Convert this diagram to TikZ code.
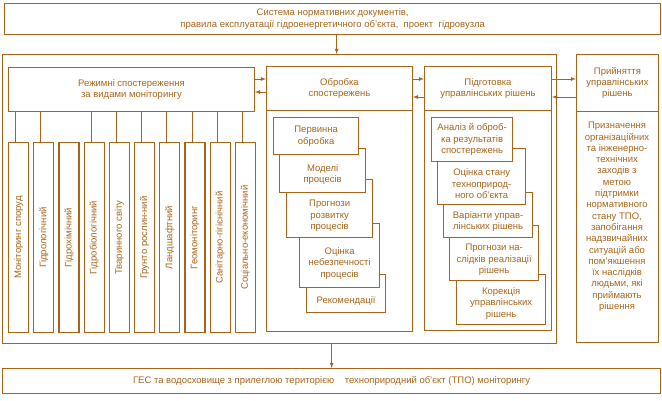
\documentclass[tikz,border=0pt]{standalone}
\usepackage{fontspec}
\setmainfont{Liberation Sans}
\usetikzlibrary{math,calc}
\definecolor{brn}{RGB}{168,100,24}

\begin{document}
\begin{tikzpicture}[x=1pt,y=-1pt,
    every node/.style={text=brn, font=\fontsize{9.5}{11.3}\selectfont},
    frm/.style={draw=brn, line width=1.3pt, inner sep=0pt, anchor=north west, align=center},
    hbox/.style={draw=brn, line width=0.9pt, inner sep=0pt, anchor=north west, align=center},
    kind/.style={draw=brn, line width=1.2pt, inner sep=0pt, anchor=north west, minimum width=20pt, minimum height=190pt},
    stk/.style={draw=brn, line width=1.3pt, fill=white, inner sep=0pt, anchor=north west},
    lbl/.style={align=center, inner sep=0pt},
    arr/.style={draw=brn, line width=0.8pt, -latex},
    con/.style={draw=brn, line width=0.8pt}]
  \useasboundingbox (0,0) rectangle (662,400);
  \tikzmath{\cstep = 25.2;}

  % top and bottom boxes
  \node[frm, minimum width=656pt, minimum height=31pt] (norms) at (4,3)
    {Система нормативних документів,\\правила експлуатації гідроенергетичного об’єкта,~ проект~ гідровузла};
  \node[frm, minimum width=658pt, minimum height=25pt] (hpp) at (2,368)
    {ГЕС та водосховище з прилеглою територією~~~ техноприродний об’єкт (ТПО) моніторингу};

  % outer frame
  \node[frm, minimum width=554pt, minimum height=289pt] (frame) at (2,54) {};

  % kinds of monitoring
  \node[hbox, minimum width=246pt, minimum height=44pt] (regimes) at (8,67)
    {Режимні спостереження\\за видами моніторингу};
  \foreach \name [count=\i] in {Моніторинг споруд, Гідрологічний, Гідрохімічний,
      Гідробіологічний, Тваринного світу, Грунто рослин-ний, Ландшафтний,
      Геомоніторинг, Санітарно-гігієнічний, Соціально-економічний}
  {
    \node[kind] (c\i) at ({8+(\i-1)*\cstep},142) {};
    \node[lbl, rotate=90] (c\i t) at (c\i.center) {\name};
  }
  \foreach \i in {1,2,4,5,6,7,8,9,10}
  {
    \coordinate (j\i) at ([xshift=-3pt]c\i.north);
    \draw[con] (j\i) -- (j\i |- regimes.south);
  }

  % processing
  \node[hbox, minimum width=146pt, minimum height=44pt] (prochead) at (266,66) {Обробка\\спостережень};
  \node[hbox, minimum width=146pt, minimum height=221pt] (procbody) at (266,110) {};
  \node[stk, minimum width=79pt, minimum height=38pt] (p5) at (306,274) {};
  \node[stk, minimum width=80pt, minimum height=64pt] (p4) at (299,223) {};
  \node[stk, minimum width=86pt, minimum height=58pt] (p3) at (286,179) {};
  \node[stk, minimum width=86pt, minimum height=44pt] (p2) at (279,148) {};
  \node[stk, minimum width=85pt, minimum height=37pt] (p1) at (273,117) {};
  \node[lbl] (p1t) at (p1.center) {Первинна\\обробка};
  \node[lbl] (p2t) at ($(p2.south)!.5!(p2.south |- p1.south)$) {Моделі\\процесів};
  \node[lbl] (p3t) at ($(p3.south)!.5!(p3.south |- p2.south)$) {Прогнози\\розвитку\\процесів};
  \node[lbl] (p4t) at ($(p4.south)!.5!(p4.south |- p3.south)$) {Оцінка\\небезпечності\\процесів};
  \node[lbl] (p5t) at ($(p5.south)!.5!(p5.south |- p4.south)$) {Рекомендації};

  % decisions
  \node[hbox, minimum width=127pt, minimum height=44pt] (prephead) at (424,66) {Підготовка\\управлінських рішень};
  \node[hbox, minimum width=127pt, minimum height=220pt] (prepbody) at (424,110) {};
  \node[stk, minimum width=89pt, minimum height=50pt] (d5) at (456,274) {};
  \node[stk, minimum width=89pt, minimum height=55pt] (d4) at (449,225) {};
  \node[stk, minimum width=89pt, minimum height=45pt] (d3) at (443,192) {};
  \node[stk, minimum width=88pt, minimum height=56pt] (d2) at (437,148) {};
  \node[stk, minimum width=81pt, minimum height=44pt] (d1) at (431,117) {};
  \node[lbl] (d1t) at (d1.center) {Аналіз й оброб-\\ка результатів\\спостережень};
  \node[lbl] (d2t) at ($(d2.south)!.5!(d2.south |- d1.south)$) {Оцінка стану\\техноприрод-\\ного об’єкта};
  \node[lbl] (d3t) at ($(d3.south)!.5!(d3.south |- d2.south)$) {Варіанти управ-\\лінських рішень};
  \node[lbl] (d4t) at ($(d4.south)!.5!(d4.south |- d3.south)$) {Прогнози на-\\слідків реалізації\\рішень};
  \node[lbl] (d5t) at ($(d5.south)!.5!(d5.south |- d4.south)$) {Корекція\\управлінських\\рішень};

  % acceptance
  \node[hbox, minimum width=82pt, minimum height=57pt] (accepthead) at (576,54) {Прийняття\\управлінських\\рішень};
  \node[hbox, minimum width=82pt, minimum height=231pt] (acceptbody) at (576,111) {};
  \node[lbl, anchor=north] (accepttxt) at (617,122)
    {Призначення\\організаційних\\та інженерно-\\технічних\\заходів з\\метою\\підтримки\\нормативного\\стану ТПО,\\запобігання\\надзвичайних\\ситуацій або\\пом’якшення\\їх наслідків\\людьми, які\\приймають\\рішення};

  % arrows
  \coordinate (row1) at (0,79);
  \coordinate (row2) at (0,92);
  \coordinate (row3) at (0,97);
  \coordinate (ta) at ([xshift=4pt]norms.south);
  \draw[arr] (ta) -- (ta |- frame.north);
  \draw[arr] (hpp.north |- frame.south) -- (hpp.north);
  \draw[arr] (regimes.east |- row1) -- (prochead.west |- row1);
  \draw[arr] (prochead.east |- row1) -- (prephead.west |- row1);
  \draw[arr] (prephead.east |- row1) -- (accepthead.west |- row1);
  \draw[arr] (prochead.west |- row2) -- (regimes.east |- row2);
  \draw[arr] (prephead.west |- row3) -- (prochead.east |- row3);
  \draw[arr] (accepthead.west |- row3) -- (prephead.east |- row3);
\end{tikzpicture}
\end{document}
